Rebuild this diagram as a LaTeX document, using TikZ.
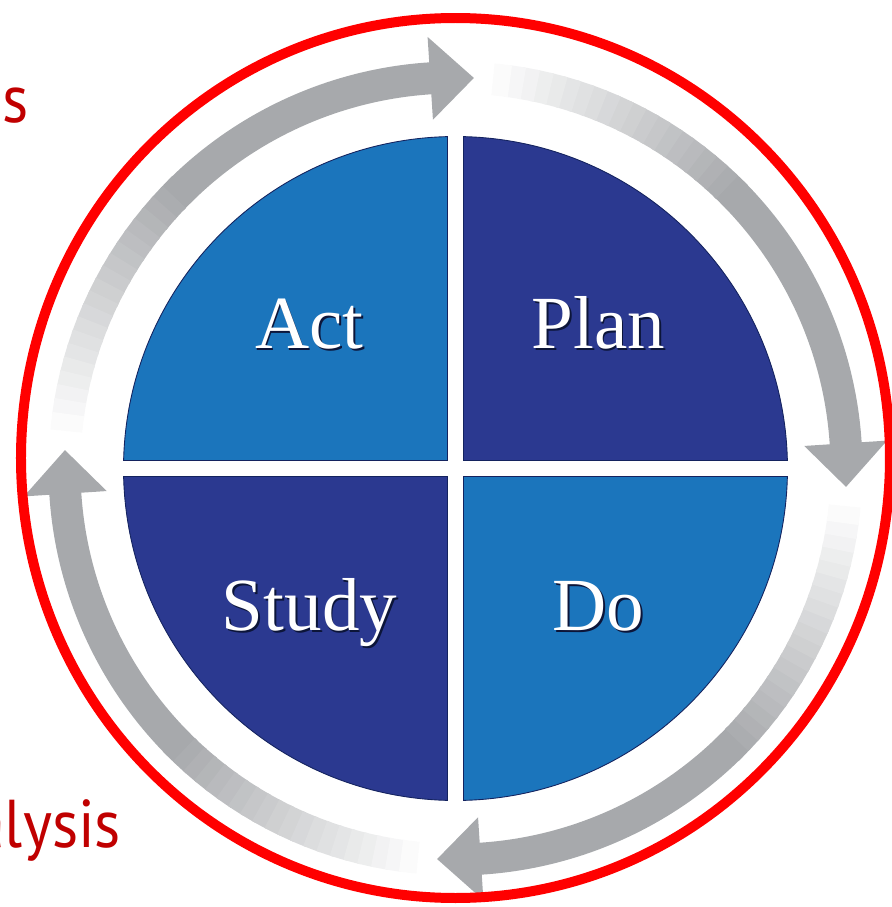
\documentclass[tikz,border=0pt]{standalone}
\usepackage{fontspec}
\setmainfont{Liberation Serif}
\newfontfamily\sidefont[FakeStretch=0.92]{PT Sans}
\usetikzlibrary{positioning}

\definecolor{cyclelight}{RGB}{27,117,188}
\definecolor{cycledark}{RGB}{43,57,144}
\definecolor{cycleedge}{RGB}{20,35,95}
\definecolor{arrowgray}{RGB}{167,169,172}
\definecolor{notered}{RGB}{192,0,0}
\definecolor{ringred}{RGB}{255,0,0}

\begin{document}
\begin{tikzpicture}[x=0.02cm, y=0.02cm,
    quad/.style={draw=cycleedge, line width=0.5pt},
    shaft/.style={line width=0.64cm},
    phase/.style={text=white, anchor=base, inner sep=0pt, font=\fontsize{42.7}{50}\selectfont},
    side/.style={text=notered, anchor=base east, inner sep=0pt, font=\sidefont\fontsize{38.5}{44}\selectfont}
]
\useasboundingbox (-455.5,-438.5) rectangle (436.5,468.5);
\clip (-455.5,-438.5) rectangle (436.5,468.5);

% four quarters, split by a white cross
\foreach \s/\col in {0/cycledark, -90/cyclelight, 180/cycledark, 90/cyclelight}
  \filldraw[quad, fill=\col] (\s+45:11.31) -- (\s+88.62:332)
    arc[start angle=\s+88.62, end angle=\s+1.38, radius=332] -- cycle;

% curved arrows going clockwise, fading out towards the tail
\foreach \a in {90,0,-90,180}{
  \draw[shaft, arrowgray] (\a+3:391) arc[start angle=\a+3, end angle=\a+45, radius=391];
  \foreach \k [evaluate=\k as \p using int(100-5*\k)] in {0,...,19}
    \draw[shaft, arrowgray!\p!white] (\a+44+2*\k:391)
      arc[start angle=\a+44+2*\k, end angle=\a+46.5+2*\k, radius=391];
  \fill[arrowgray] (\a+3.7:349.5) -- (\a-2.7:391) -- (\a+3.7:432.5) -- cycle;
}

% outer ring
\draw[ringred, line width=0.2cm] (0,10.5) ellipse[x radius=434.5, y radius=440];

% phase names with a dark shadow
\foreach \x/\y/\txt/\nm in {-146/120/Act/act, 143/120/Plan/plan, -146/-162/Study/study, 143/-162/Do/do}{
  \node[phase, text=cycleedge!60!black] at (\x+1.5,\y-1.5) {\txt};
  \node[phase] (\nm) at (\x,\y) {\txt};
}

\node[side] (upper) at (-426.5,346.5) {s};
\node[side] (analysis) at (-334,-378.5) {Analysis};
\end{tikzpicture}
\end{document}
